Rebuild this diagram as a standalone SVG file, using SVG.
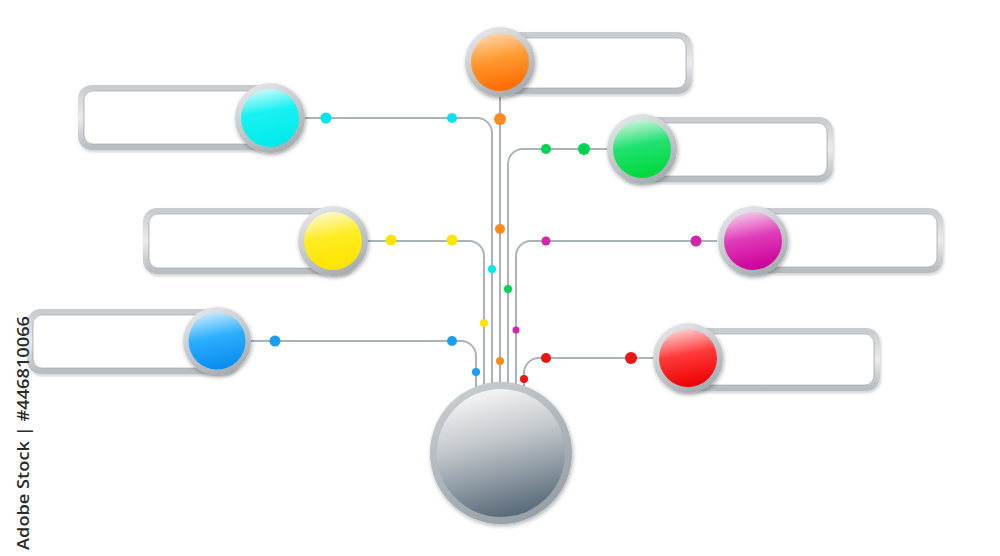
<svg xmlns="http://www.w3.org/2000/svg" width="1000" height="556" viewBox="0 0 1000 556">
  <defs>
    <style>
      .frame { fill: #ffffff; stroke: url(#frameGrad); stroke-width: 6; filter: url(#softShadow); }
      .frameIn { fill: none; stroke: #8e969b; stroke-width: 1.2; opacity: 0.55; }
      .ring { fill: url(#ringGrad); filter: url(#ballShadow); }
      .gloss { fill: url(#glossGrad); }
      .conn { fill: none; stroke: #a9b3b9; stroke-width: 2; }
      .label { font-family: "Open Sans", "Liberation Sans", sans-serif; font-weight: 600; font-size: 17px; fill: #2b2b2b; }
    </style>
    <linearGradient id="frameGrad" x1="0" y1="0" x2="0" y2="1">
      <stop offset="0" stop-color="#c9cdd0"/>
      <stop offset="0.5" stop-color="#e9ebec"/>
      <stop offset="1" stop-color="#b8bdc1"/>
    </linearGradient>
    <linearGradient id="ringGrad" x1="0.2" y1="0" x2="0.7" y2="1">
      <stop offset="0" stop-color="#e6e9eb"/>
      <stop offset="1" stop-color="#a3aaaf"/>
    </linearGradient>
    <linearGradient id="glossGrad" x1="0" y1="0" x2="0" y2="1">
      <stop offset="0" stop-color="#ffffff" stop-opacity="0.75"/>
      <stop offset="1" stop-color="#ffffff" stop-opacity="0"/>
    </linearGradient>
    <linearGradient id="gOrange" x1="0.3" y1="0" x2="0.5" y2="1">
      <stop offset="0" stop-color="#ffd7ae"/>
      <stop offset="0.45" stop-color="#ff9a30"/>
      <stop offset="1" stop-color="#ff6a00"/>
    </linearGradient>
    <linearGradient id="gCyan" x1="0.3" y1="0" x2="0.5" y2="1">
      <stop offset="0" stop-color="#cdfcfc"/>
      <stop offset="0.4" stop-color="#19f1f1"/>
      <stop offset="1" stop-color="#00eaea"/>
    </linearGradient>
    <linearGradient id="gGreen" x1="0.3" y1="0" x2="0.5" y2="1">
      <stop offset="0" stop-color="#cdf5dc"/>
      <stop offset="0.45" stop-color="#20e070"/>
      <stop offset="1" stop-color="#00d83c"/>
    </linearGradient>
    <linearGradient id="gYellow" x1="0.3" y1="0" x2="0.5" y2="1">
      <stop offset="0" stop-color="#fff8cf"/>
      <stop offset="0.45" stop-color="#ffec20"/>
      <stop offset="1" stop-color="#ffe400"/>
    </linearGradient>
    <linearGradient id="gMagenta" x1="0.3" y1="0" x2="0.5" y2="1">
      <stop offset="0" stop-color="#f6cdea"/>
      <stop offset="0.45" stop-color="#e03cb8"/>
      <stop offset="1" stop-color="#cc0099"/>
    </linearGradient>
    <linearGradient id="gBlue" x1="0.3" y1="0" x2="0.5" y2="1">
      <stop offset="0" stop-color="#c8ebff"/>
      <stop offset="0.45" stop-color="#2aaefc"/>
      <stop offset="1" stop-color="#0a8cf0"/>
    </linearGradient>
    <linearGradient id="gRed" x1="0.3" y1="0" x2="0.5" y2="1">
      <stop offset="0" stop-color="#ffd6d6"/>
      <stop offset="0.45" stop-color="#ff3a3a"/>
      <stop offset="1" stop-color="#ee0000"/>
    </linearGradient>
    <linearGradient id="hubRing" x1="0.2" y1="0" x2="0.7" y2="1">
      <stop offset="0" stop-color="#c9ced1"/>
      <stop offset="1" stop-color="#969ea4"/>
    </linearGradient>
    <linearGradient id="hubFill" x1="0.35" y1="0" x2="0.6" y2="1">
      <stop offset="0" stop-color="#f5f6f7"/>
      <stop offset="0.4" stop-color="#c2c7cb"/>
      <stop offset="1" stop-color="#566878"/>
    </linearGradient>
    <filter id="softShadow" x="-10%" y="-20%" width="120%" height="150%">
      <feDropShadow dx="1" dy="2" stdDeviation="1.5" flood-color="#000000" flood-opacity="0.18"/>
    </filter>
    <filter id="ballShadow" x="-30%" y="-30%" width="160%" height="160%">
      <feDropShadow dx="1" dy="2" stdDeviation="2" flood-color="#000000" flood-opacity="0.3"/>
    </filter>
  </defs>

  <rect x="0" y="0" width="1000" height="556" fill="#ffffff"/>

  <g id="connectors">
    <path class="conn" d="M305,118 H477 A15,15 0 0 1 492,133 V390"/>
    <path class="conn" d="M500,97 V390"/>
    <path class="conn" d="M607,149 H523 A15,15 0 0 0 508,164 V390"/>
    <path class="conn" d="M368,241 H469 A15,15 0 0 1 484,256 V390"/>
    <path class="conn" d="M717,241 H531 A15,15 0 0 0 516,256 V390"/>
    <path class="conn" d="M251,341 H461 A15,15 0 0 1 476,356 V390"/>
    <path class="conn" d="M653,358 H539 A15,15 0 0 0 524,373 V390"/>
    <g id="dots">
      <circle cx="326" cy="118" r="5.5" fill="#00e6ee"/>
      <circle cx="452" cy="118" r="5" fill="#00e6ee"/>
      <circle cx="492" cy="269" r="4" fill="#00e6ee"/>
      <circle cx="500" cy="119" r="6" fill="#ff8a1c"/>
      <circle cx="500" cy="229" r="5" fill="#ff8a1c"/>
      <circle cx="500" cy="361" r="4" fill="#ff8a1c"/>
      <circle cx="584" cy="149" r="6" fill="#00d452"/>
      <circle cx="546" cy="149" r="5" fill="#00d452"/>
      <circle cx="508" cy="289" r="4" fill="#00d452"/>
      <circle cx="391" cy="240" r="5.5" fill="#ffe400"/>
      <circle cx="452" cy="240" r="5.5" fill="#ffe400"/>
      <circle cx="484" cy="323" r="4" fill="#ffe400"/>
      <circle cx="696" cy="241" r="5.5" fill="#d424aa"/>
      <circle cx="546" cy="241" r="4.5" fill="#d424aa"/>
      <circle cx="516" cy="330" r="3.5" fill="#d424aa"/>
      <circle cx="275" cy="341" r="5.5" fill="#1a9ef2"/>
      <circle cx="452" cy="341" r="5" fill="#1a9ef2"/>
      <circle cx="476" cy="372" r="4" fill="#1a9ef2"/>
      <circle cx="631" cy="358" r="6" fill="#ee1414"/>
      <circle cx="546" cy="358" r="5" fill="#ee1414"/>
      <circle cx="524" cy="379" r="4" fill="#ee1414"/>
    </g>
  </g>

  <g id="node-orange">
    <rect class="frame" x="483" y="35" width="206" height="56" rx="11"/>
    <rect class="frameIn" x="486" y="38" width="200" height="50" rx="9"/>
    <circle class="ring" cx="500" cy="62" r="35"/>
    <circle cx="500" cy="62" r="29" fill="url(#gOrange)"/>
  </g>

  <g id="node-cyan">
    <rect class="frame" x="81" y="88" width="206" height="59" rx="11"/>
    <rect class="frameIn" x="84" y="91" width="200" height="53" rx="9"/>
    <circle class="ring" cx="270" cy="118" r="35"/>
    <circle cx="270" cy="118" r="29" fill="url(#gCyan)"/>
  </g>

  <g id="node-green">
    <rect class="frame" x="624" y="120" width="206" height="59" rx="11"/>
    <rect class="frameIn" x="627" y="123" width="200" height="53" rx="9"/>
    <circle class="ring" cx="642" cy="149" r="35"/>
    <circle cx="642" cy="149" r="29" fill="url(#gGreen)"/>
  </g>

  <g id="node-yellow">
    <rect class="frame" x="146" y="211" width="206" height="60" rx="11"/>
    <rect class="frameIn" x="149" y="214" width="200" height="54" rx="9"/>
    <circle class="ring" cx="333" cy="241" r="35"/>
    <circle cx="333" cy="241" r="29" fill="url(#gYellow)"/>
  </g>

  <g id="node-magenta">
    <rect class="frame" x="734" y="211" width="206" height="59" rx="11"/>
    <rect class="frameIn" x="737" y="214" width="200" height="53" rx="9"/>
    <circle class="ring" cx="753" cy="241" r="35"/>
    <circle cx="753" cy="241" r="29" fill="url(#gMagenta)"/>
  </g>

  <g id="node-blue">
    <rect class="frame" x="30" y="312" width="206" height="59" rx="11"/>
    <rect class="frameIn" x="33" y="315" width="200" height="53" rx="9"/>
    <circle class="ring" cx="217" cy="341" r="34"/>
    <circle cx="217" cy="341" r="28.5" fill="url(#gBlue)"/>
  </g>

  <g id="node-red">
    <rect class="frame" x="671" y="331" width="206" height="57" rx="11"/>
    <rect class="frameIn" x="674" y="334" width="200" height="51" rx="9"/>
    <circle class="ring" cx="688" cy="358" r="35"/>
    <circle cx="688" cy="358" r="29" fill="url(#gRed)"/>
  </g>

  <g id="hub">
    <circle cx="501" cy="453" r="71" fill="url(#hubRing)" filter="url(#ballShadow)"/>
    <circle cx="501" cy="453" r="64" fill="url(#hubFill)"/>
  </g>

  <text class="label" transform="translate(29,550) rotate(-90)" textLength="234" lengthAdjust="spacingAndGlyphs">Adobe Stock | #446810066</text>
</svg>
